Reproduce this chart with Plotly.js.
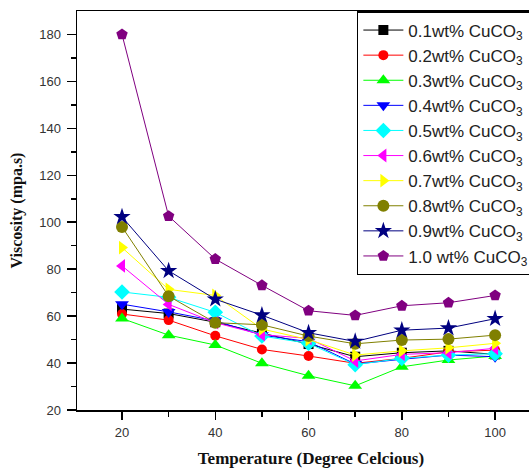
<!DOCTYPE html>
<html><head><meta charset="utf-8">
<script src="https://cdn.plot.ly/plotly-3.0.1.min.js"></script>
<style>html,body{margin:0;padding:0;overflow:hidden;background:#fff}</style>
</head><body>
<div id="chart" style="width:545px;height:468px"></div>
<script>
const temperature = [20, 30, 40, 50, 60, 70, 80, 90, 100];
const names = ["0.1wt% CuCO<sub>3</sub>", "0.2wt% CuCO<sub>3</sub>", "0.3wt% CuCO<sub>3</sub>", "0.4wt% CuCO<sub>3</sub>", "0.5wt% CuCO<sub>3</sub>", "0.6wt% CuCO<sub>3</sub>", "0.7wt% CuCO<sub>3</sub>", "0.8wt% CuCO<sub>3</sub>", "0.9wt% CuCO<sub>3</sub>", "1.0 wt% CuCO<sub>3</sub>"];
const v01 = [63.0, 61.1, 57.4, 52.6, 48.1, 42.7, 44.4, 45.2, 43.7];
const v02 = [60.9, 58.3, 51.6, 45.8, 43.0, 39.9, 42.0, 44.8, 45.5];
const v03 = [59.0, 51.9, 47.7, 39.9, 34.6, 30.3, 38.4, 41.3, 43.0];
const v04 = [65.1, 61.8, 58.0, 51.9, 49.1, 39.6, 41.6, 43.4, 42.7];
const v05 = [70.3, 68.0, 61.6, 51.5, 48.4, 39.3, 42.0, 43.4, 44.0];
const v06 = [81.4, 65.0, 57.2, 52.1, 50.5, 40.9, 43.7, 44.4, 46.3];
const v07 = [89.2, 71.4, 68.8, 54.5, 50.0, 43.4, 45.2, 46.5, 48.4];
const v08 = [98.0, 68.5, 57.2, 56.3, 51.5, 48.2, 49.8, 50.2, 51.9];
const v09 = [102.3, 79.3, 67.2, 60.4, 52.9, 49.2, 54.0, 54.9, 58.9];
const v10 = [180.0, 102.6, 84.3, 73.1, 62.3, 60.3, 64.4, 65.7, 68.8];
const series = [v01, v02, v03, v04, v05, v06, v07, v08, v09, v10];
const colors = ["#000000", "#ff0000", "#00ff00", "#0000ff", "#00ffff", "#ff00ff", "#ffff00", "#808000", "#000080", "#800080"];
const symbols = ["square", "circle", "triangle-up", "triangle-down", "diamond", "triangle-left", "triangle-right", "circle", "star", "pentagon"];
const sizes = [10, 10, 12, 12, 12, 12, 12, 12, 13, 12];

const traces = series.map((v, i) => ({
  x: temperature, y: v, name: names[i], type: "scatter", mode: "lines+markers",
  line: {color: colors[i], width: 1},
  marker: {color: colors[i], symbol: symbols[i], size: sizes[i], line: {width: 0}}
}));

const tickFont = {family: "Arial, Liberation Sans, sans-serif", size: 13, color: "#333"};
const titleFont = {family: "Liberation Serif, Times New Roman, serif", color: "#111", weight: "bold"};
const layout = {
  width: 545, height: 468,
  margin: {l: 77, r: 0, t: 11, b: 58},
  paper_bgcolor: "#fff", plot_bgcolor: "#fff",
  showlegend: true,
  legend: {x: 0.598, y: 1, xanchor: "left", yanchor: "top", bordercolor: "#000", borderwidth: 1.5,
    itemwidth: 40,
    bgcolor: "#fff", font: {family: "Arial, Liberation Sans, sans-serif", size: 17, color: "#222"}},
  xaxis: {range: [10.35, 110.7], tickvals: [20, 40, 60, 80, 100], ticks: "outside", ticklen: 8, tickwidth: 1.5,
    minor: {tickvals: [30, 50, 70, 90], ticks: "outside", ticklen: 5, tickwidth: 1.5, tickcolor: "#000"},
    tickcolor: "#000", showline: true, linecolor: "#000", linewidth: 1.5, mirror: true, showgrid: false, zeroline: false,
    tickfont: tickFont, ticklabelstandoff: 2,
    title: {text: "Temperature (Degree Celcious)", standoff: 14, font: Object.assign({size: 17}, titleFont)}},
  yaxis: {range: [20, 190], tickvals: [20, 40, 60, 80, 100, 120, 140, 160, 180], ticks: "outside", ticklen: 9, tickwidth: 1.5,
    minor: {tickvals: [30, 50, 70, 90, 110, 130, 150, 170], ticks: "outside", ticklen: 5, tickwidth: 1.5, tickcolor: "#000"},
    tickcolor: "#000", showline: true, linecolor: "#000", linewidth: 1.5, mirror: true, showgrid: false, zeroline: false,
    tickfont: tickFont, ticklabelstandoff: 3,
    title: {text: "Viscosity (mpa.s)", standoff: 12, font: Object.assign({size: 16}, titleFont)}}
};
Plotly.newPlot("chart", traces, layout, {displayModeBar: false, staticPlot: true});
</script>
</body></html>
